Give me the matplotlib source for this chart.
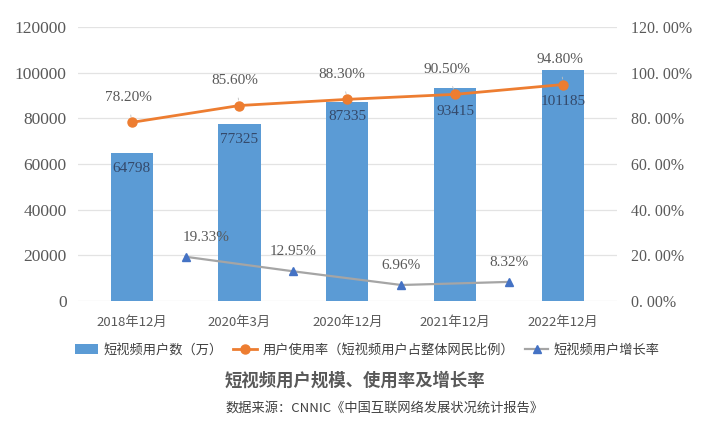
import matplotlib.pyplot as plt
from matplotlib.lines import Line2D
from matplotlib.patches import Patch
import numpy as np

plt.rcParams['font.family'] = ['Noto Sans CJK SC', 'DejaVu Sans']

periods = ['2018年12月', '2020年3月', '2020年12月', '2021年12月', '2022年12月']
users = [64798, 77325, 87335, 93415, 101185]          # 万
usage_rate = [78.20, 85.60, 88.30, 90.50, 94.80]      # %
growth_rate = [19.33, 12.95, 6.96, 8.32]              # %, between periods

BLUE = '#5B9BD5'
ORANGE = '#ED7D31'
GREY_LINE = '#A5A5A5'
TRI = '#4472C4'
TXT = '#595959'
NUM_FONT = ['Liberation Serif', 'Noto Sans CJK SC']

fig = plt.figure(figsize=(7.06, 4.22), dpi=100)
ax = fig.add_axes([0.110, 0.287, 0.764, 0.649])
ax2 = ax.twinx()

x = np.arange(len(periods))
ax.bar(x, users, width=0.39, color=BLUE, zorder=2)
ax.set_ylim(0, 120000)
ax.set_xlim(-0.5, len(periods) - 0.5)
ax.set_yticks(np.arange(0, 120001, 20000))
ax.set_yticklabels([str(v) for v in range(0, 120001, 20000)],
                   family=NUM_FONT, fontsize=12.5, color=TXT)
ax.set_xticks(x)
ax.set_xticklabels(periods, fontsize=9.5, color=TXT)
ax.tick_params(axis='y', length=0, pad=8)
ax.tick_params(axis='x', length=0, pad=11)
ax.grid(axis='y', color='#E3E3E3', linewidth=0.9, zorder=0)
for s in ax.spines.values():
    s.set_visible(False)

# bar labels: pushed lower on the last two so they clear the orange line
bar_lab_dy = [-11, -11, -11, -17, -23]
for xi, v, dy in zip(x, users, bar_lab_dy):
    ax.annotate(str(v), (xi, v), xytext=(0, dy), textcoords='offset points',
                ha='center', va='center', fontsize=11, family=NUM_FONT,
                color='#34496A', zorder=5)

ax2.set_ylim(0, 120)
ax2.set_yticks(np.arange(0, 121, 20))
ax2.set_yticklabels(['%d. 00%%' % v for v in range(0, 121, 20)],
                    family=NUM_FONT, fontsize=11.5, color=TXT)
ax2.tick_params(length=0, pad=10)
for s in ax2.spines.values():
    s.set_visible(False)

ax2.plot(x, usage_rate, color=ORANGE, lw=2, marker='o', ms=6.5, zorder=4)
use_lab_dx = [-2, -3, -4, -6, -2]
for xi, v, dx in zip(x, usage_rate, use_lab_dx):
    ax2.annotate('%.2f%%' % v, (xi, v), xytext=(dx, 18), textcoords='offset points',
                 ha='center', va='center', fontsize=11, family=NUM_FONT, color=TXT,
                 arrowprops=dict(arrowstyle='-', color='#BFBFBF', lw=0.6,
                                 shrinkA=6, shrinkB=4))

xg = x[:-1] + 0.5
ax2.plot(xg, growth_rate, color=GREY_LINE, lw=1.6, marker='^', ms=6,
         markerfacecolor=TRI, markeredgecolor=TRI, zorder=4)
grow_lab_dx = [15, 0, 0, 0]
for xi, v, dx in zip(xg, growth_rate, grow_lab_dx):
    ax2.annotate('%.2f%%' % v, (xi, v), xytext=(dx, 14), textcoords='offset points',
                 ha='center', va='center', fontsize=11, family=NUM_FONT, color=TXT)

handles = [
    Patch(facecolor=BLUE, edgecolor='none'),
    Line2D([], [], color=ORANGE, lw=2, marker='o', ms=6.5),
    Line2D([], [], color=GREY_LINE, lw=1.6, marker='^', ms=6,
           markerfacecolor=TRI, markeredgecolor=TRI),
]
labels = ['短视频用户数（万）', '用户使用率（短视频用户占整体网民比例）', '短视频用户增长率']
fig.legend(handles, labels, loc='center', bbox_to_anchor=(0.52, 1 - 350 / 422),
           ncol=3, frameon=False, fontsize=9.5, handlelength=1.8,
           columnspacing=0.8, handletextpad=0.4, labelcolor='#404040')

fig.text(0.503, 1 - 381 / 422, '短视频用户规模、使用率及增长率', ha='center', va='center',
         fontsize=12.5, fontweight='bold', color=TXT)
fig.text(0.545, 1 - 408 / 422, '数据来源：CNNIC《中国互联网络发展状况统计报告》',
         ha='center', va='center', fontsize=9.5, color='#404040')

fig.savefig('out.png', dpi=100)
